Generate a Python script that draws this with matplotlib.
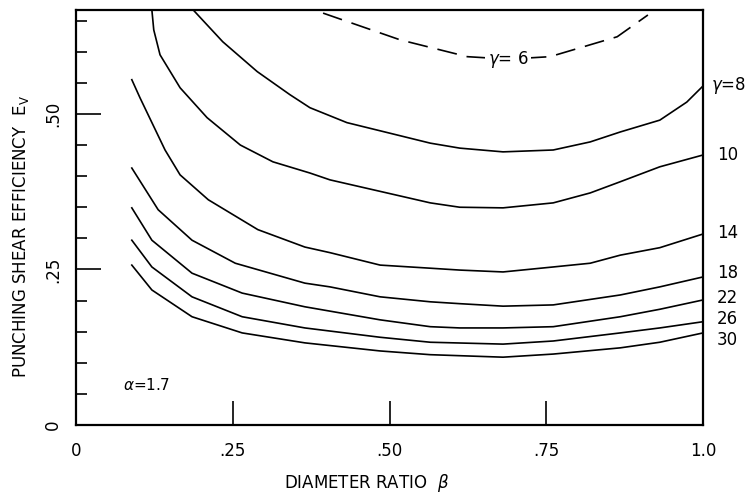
import numpy as np
import matplotlib
matplotlib.use('Agg')
import matplotlib.pyplot as plt

# curves: diameter ratio beta vs punching shear efficiency Ev
beta_g8 = [0.187, 0.234, 0.289, 0.341, 0.373, 0.432, 0.565, 0.612, 0.681, 0.761, 0.820, 0.868,
           0.931, 0.974, 1.0]
ev_g8 = [0.667, 0.616, 0.568, 0.531, 0.510, 0.486, 0.453, 0.445, 0.439, 0.442, 0.455, 0.471,
         0.490, 0.519, 0.545]

beta_g10 = [0.121, 0.124, 0.134, 0.166, 0.209, 0.262, 0.314, 0.373, 0.405, 0.565, 0.612, 0.681,
            0.761, 0.820, 0.868, 0.931, 1.0]
ev_g10 = [0.667, 0.635, 0.595, 0.542, 0.494, 0.450, 0.423, 0.405, 0.394, 0.357, 0.350, 0.349,
          0.357, 0.373, 0.391, 0.415, 0.434]

beta_g14 = [0.089, 0.102, 0.142, 0.166, 0.211, 0.290, 0.365, 0.405, 0.485, 0.565, 0.612, 0.681,
            0.761, 0.820, 0.868, 0.931, 1.0]
ev_g14 = [0.555, 0.526, 0.442, 0.402, 0.362, 0.314, 0.286, 0.277, 0.257, 0.252, 0.249, 0.246,
          0.254, 0.260, 0.273, 0.285, 0.307]

beta_g18 = [0.089, 0.131, 0.185, 0.254, 0.365, 0.405, 0.485, 0.565, 0.612, 0.681, 0.761, 0.868,
            0.931, 1.0]
ev_g18 = [0.413, 0.346, 0.297, 0.260, 0.228, 0.222, 0.206, 0.198, 0.195, 0.191, 0.193, 0.209,
          0.222, 0.238]

beta_g22 = [0.089, 0.121, 0.185, 0.265, 0.365, 0.485, 0.565, 0.612, 0.681, 0.761, 0.868, 0.931, 1.0]
ev_g22 = [0.349, 0.297, 0.244, 0.212, 0.190, 0.169, 0.158, 0.156, 0.156, 0.158, 0.174, 0.186, 0.201]

beta_g26 = [0.089, 0.121, 0.185, 0.265, 0.365, 0.485, 0.565, 0.681, 0.761, 0.868, 0.931, 1.0]
ev_g26 = [0.297, 0.254, 0.206, 0.174, 0.156, 0.141, 0.133, 0.130, 0.135, 0.148, 0.156, 0.166]

beta_g30 = [0.089, 0.121, 0.185, 0.265, 0.365, 0.485, 0.565, 0.681, 0.761, 0.868, 0.931, 1.0]
ev_g30 = [0.257, 0.217, 0.174, 0.148, 0.132, 0.119, 0.113, 0.109, 0.114, 0.124, 0.133, 0.148]

beta_g6 = [0.394, 0.517, 0.624, 0.689, 0.756, 0.863, 0.912]
ev_g6 = [0.662, 0.619, 0.592, 0.588, 0.592, 0.624, 0.659]

solid = [(beta_g8, ev_g8), (beta_g10, ev_g10), (beta_g14, ev_g14), (beta_g18, ev_g18),
         (beta_g22, ev_g22), (beta_g26, ev_g26), (beta_g30, ev_g30)]
right_labels = ['$\\gamma$=8', '10', '14', '18', '22', '26', '30']
right_label_y = [0.545, 0.434, 0.309, 0.244, 0.204, 0.170, 0.137]

fig = plt.figure(figsize=(7.51, 4.98), dpi=100)
ax = fig.add_axes([0.1012, 0.1466, 0.835, 0.8333])

for b, e in solid:
    ax.plot(b, e, color='black', lw=1.2, solid_joinstyle='round')
ax.plot(beta_g6, ev_g6, color='black', lw=1.2, dashes=(12, 6))
ax.text(0.689, 0.587, '$\\gamma$= 6', ha='center', va='center', fontsize=12,
        bbox=dict(facecolor='white', edgecolor='none', pad=2))

for lab, yy in zip(right_labels, right_label_y):
    ax.text(1.022 if lab != right_labels[0] else 1.012, yy, lab, ha='left', va='center',
            fontsize=12, clip_on=False)

ax.text(0.075, 0.064, '$\\alpha$=1.7', ha='left', va='center', fontsize=11)

ax.set_xlim(0, 1.0)
ax.set_ylim(0, 0.667)

ax.set_xticks([0, 0.25, 0.5, 0.75, 1.0])
ax.set_xticklabels(['0', '.25', '.50', '.75', '1.0'])
ax.set_yticks([0, 0.25, 0.5])
ax.set_yticklabels(['0', '.25', '.50'], rotation=90, va='center')
ax.set_yticks(np.arange(0.05, 0.66, 0.05), minor=True)

ax.tick_params(axis='x', direction='in', length=17, width=1.2, pad=12, labelsize=12)
ax.tick_params(axis='y', which='major', direction='in', length=18, width=1.2, pad=10, labelsize=12)
ax.tick_params(axis='y', which='minor', direction='in', length=8, width=1.2)

for s in ax.spines.values():
    s.set_linewidth(1.6)

ax.set_xlabel('DIAMETER RATIO  $\\beta$', fontsize=12, va='center')
ax.xaxis.set_label_coords(0.463, -0.14)
ax.set_ylabel('PUNCHING SHEAR EFFICIENCY  E$_\\mathregular{V}$', fontsize=12, va='center')
ax.yaxis.set_label_coords(-0.088, 0.453)

fig.savefig('out.png', dpi=100)
